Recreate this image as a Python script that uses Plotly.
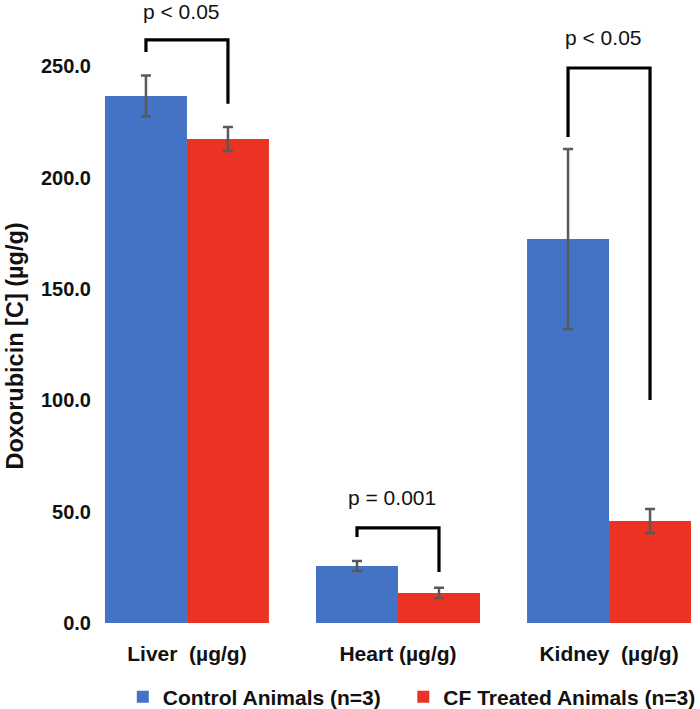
import plotly.graph_objects as go

# ---- data ----
categories = ["Liver  (µg/g)", "Heart (µg/g)", "Kidney  (µg/g)"]
control_vals = [236.7, 25.6, 172.5]
control_err = [9.2, 2.2, 40.4]
cf_vals = [217.4, 13.5, 45.8]
cf_err = [5.4, 2.3, 5.4]
series_names = ["Control Animals (n=3)", "CF Treated Animals (n=3)"]
y_ticks = [0, 50, 100, 150, 200, 250]

# significance brackets (per category)
sig_labels = ["p < 0.05", "p = 0.001", "p < 0.05"]
bracket_top = [261.9, 42.7, 249.3]
bracket_left_end = [256.5, 38.6, 218.3]
bracket_right_end = [233.2, 22.9, 100.2]
label_y = [274.5, 56.2, 262.8]

BLUE = "#4472C4"
RED = "#EB3223"
ERR = "#595959"
FONT = "Liberation Sans"

bargap = 0.223
bar_w = (1 - bargap) / 2

fig = go.Figure()
fig.add_trace(go.Bar(
    x=list(range(len(categories))), y=control_vals,
    name=series_names[0] + "\u00a0\u00a0\u00a0",
    marker=dict(color=BLUE, line=dict(width=0)),
    error_y=dict(type="data", array=control_err, color=ERR, thickness=2.5, width=5),
))
fig.add_trace(go.Bar(
    x=list(range(len(categories))), y=cf_vals, name=series_names[1],
    marker=dict(color=RED, line=dict(width=0)),
    error_y=dict(type="data", array=cf_err, color=ERR, thickness=2.5, width=5),
))

shapes = []
annotations = []
for i in range(len(categories)):
    xl = i - bar_w / 2
    xr = i + bar_w / 2
    path = f"M {xl},{bracket_left_end[i]} L {xl},{bracket_top[i]} L {xr},{bracket_top[i]} L {xr},{bracket_right_end[i]}"
    shapes.append(dict(type="path", path=path, xref="x", yref="y",
                       line=dict(color="black", width=3.2)))
    annotations.append(dict(x=i - 0.03, y=label_y[i], xref="x", yref="y", text=sig_labels[i],
                            showarrow=False, font=dict(family=FONT, size=21, color="#111111"),
                            xanchor="center", yanchor="middle"))

annotations.append(dict(x=-0.141, y=0.448, xref="paper", yref="paper",
                        text="Doxorubicin [C] (µg/g)", textangle=-90, showarrow=False,
                        font=dict(family=FONT, size=23.5, color="#111111", weight="bold"),
                        xanchor="center", yanchor="middle"))

fig.update_layout(
    width=700, height=709,
    margin=dict(l=100, r=0, t=5, b=86, autoexpand=False),
    paper_bgcolor="white", plot_bgcolor="white",
    barmode="group", bargap=bargap, bargroupgap=0,
    showlegend=True,
    legend=dict(orientation="h", x=0.038, xanchor="left", y=-0.12, yanchor="middle",
                font=dict(family=FONT, size=21, color="#111111", weight="bold"),
                bgcolor="rgba(0,0,0,0)"),
    shapes=shapes, annotations=annotations,
    xaxis=dict(tickmode="array", tickvals=list(range(len(categories))), ticktext=categories,
               range=[-0.412, 2.431], showgrid=False, showline=False, zeroline=False,
               ticks="", ticklabelstandoff=16,
               tickfont=dict(family=FONT, size=21, color="#111111", weight="bold")),
    yaxis=dict(range=[0, 277.6], tickvals=y_ticks, tickformat=".1f", showgrid=False,
               showline=False, zeroline=False, ticks="", ticklabelstandoff=8,
               tickfont=dict(family=FONT, size=20, color="#111111", weight="bold")),
)

fig.write_html("out.html", config={"displayModeBar": False},
               post_script="document.body.style.margin='0px';document.body.style.overflow='hidden';")
